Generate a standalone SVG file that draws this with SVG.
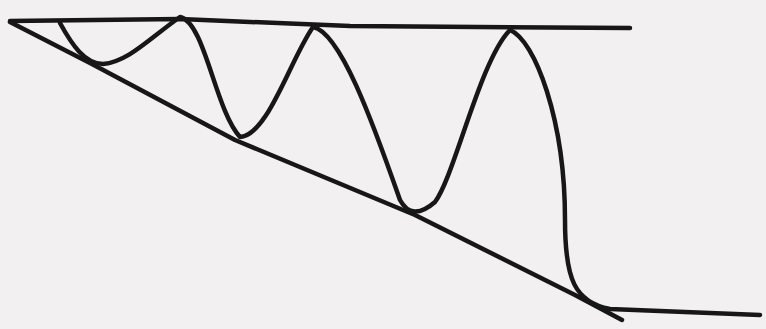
<svg xmlns="http://www.w3.org/2000/svg" width="766" height="329" viewBox="0 0 766 329">
<style>
.ink{fill:none;stroke:#171717;stroke-width:4.5;stroke-linecap:round;stroke-linejoin:round}
</style>
<rect width="766" height="329" fill="#f2f0f1"/>
<g id="resistance">
<path class="ink" d="M10,21 L180,19 L350,26 L630,28"/>
</g>
<g id="support">
<path class="ink" d="M10,22 L90,63 L235,140 L415,215 L575,295 L622,320"/>
</g>
<g id="price">
<path class="ink" d="M60,23 C72,45 85,64 103,64 C128,62 150,38 180,17 C205,22 215,110 240,137 C268,135 290,60 313,27 C340,32 372,120 400,200 Q412,222 435,202 C455,175 480,60 510,30 C535,40 565,120 565,220 C565,280 575,302 610,309 L760,315"/>
</g>
</svg>
